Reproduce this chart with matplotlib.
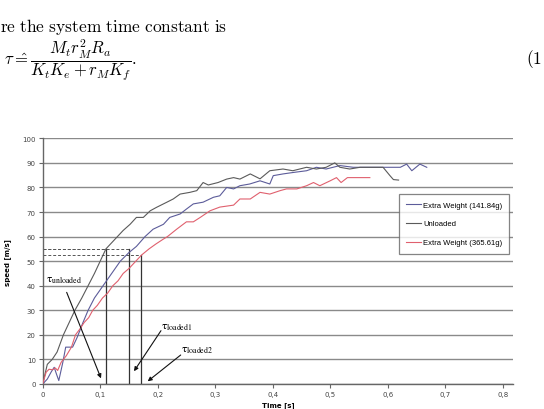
import matplotlib
matplotlib.use("Agg")
import matplotlib.pyplot as plt
from matplotlib.ticker import FixedLocator, FuncFormatter

# Data.
tUnloaded = [0, 0.008, 0.0165, 0.025, 0.036, 0.046, 0.056, 0.068, 0.079, 0.09, 0.1, 0.11, 0.12, 0.13,
             0.14, 0.152, 0.163, 0.175, 0.187, 0.198, 0.216, 0.227, 0.239, 0.256, 0.268, 0.279, 0.288,
             0.305, 0.32, 0.332, 0.343, 0.361, 0.378, 0.395, 0.418, 0.435, 0.459, 0.476, 0.493, 0.508,
             0.517, 0.534, 0.552, 0.575, 0.592, 0.604, 0.61, 0.619]
vUnloaded = [0, 8, 10, 13, 20, 25, 30, 35, 40, 45, 50, 55, 57.5, 60, 62.5, 65, 67.8, 67.8, 70.5, 71.9,
             74, 75.3, 77.3, 78, 78.7, 82, 81, 82, 83.4, 84, 83.4, 85.5, 83.5, 86.8, 87.5, 86.8, 88.2,
             87.5, 88.2, 90, 88.2, 87.5, 88.2, 88.2, 88.2, 84.8, 83.2, 83]

tLight = [0, 0.008, 0.015, 0.02, 0.024, 0.028, 0.035, 0.04, 0.052, 0.06, 0.07, 0.079, 0.09, 0.105,
          0.12, 0.135, 0.15, 0.163, 0.178, 0.192, 0.21, 0.221, 0.239, 0.25, 0.262, 0.279, 0.297, 0.308,
          0.32, 0.332, 0.343, 0.36, 0.378, 0.395, 0.401, 0.418, 0.436, 0.459, 0.476, 0.493, 0.517, 0.54,
          0.56, 0.58, 0.6, 0.622, 0.633, 0.642, 0.656, 0.668]
vLight = [0, 2, 5, 6.8, 4, 1.4, 8.8, 15, 15, 19, 25, 30, 35, 40, 45, 50, 53.5, 56, 60, 63, 65, 67.8,
          69.2, 71.2, 73.3, 74, 76, 76.6, 80, 79.4, 80.7, 81.4, 82.7, 81.4, 84.8, 85.5, 86.1, 86.8,
          88.2, 87.5, 88.9, 88.2, 88.2, 88.2, 88.2, 88.2, 89.5, 86.8, 89.5, 88.2]

tHeavy = [0, 0.006, 0.011, 0.017, 0.022, 0.026, 0.032, 0.041, 0.05, 0.057, 0.065, 0.072, 0.08, 0.087,
          0.095, 0.104, 0.113, 0.122, 0.131, 0.14, 0.15, 0.162, 0.172, 0.185, 0.197, 0.21, 0.217, 0.233,
          0.25, 0.262, 0.274, 0.291, 0.308, 0.332, 0.343, 0.361, 0.378, 0.395, 0.413, 0.424, 0.442,
          0.459, 0.471, 0.482, 0.5, 0.511, 0.519, 0.53, 0.547, 0.569]
vHeavy = [0, 4.8, 6, 5.8, 6.5, 5.5, 8.8, 11.5, 15, 20, 22.5, 25, 27, 30, 32, 35, 37, 40, 42, 45, 47,
          50, 52.5, 55, 57, 59, 60, 63, 66, 66, 67.8, 70.5, 72, 72.8, 75.3, 75.3, 78, 77.3, 78.7, 79.4,
          79.4, 80.7, 82, 80.7, 82.7, 84, 82, 84, 84, 84]

# time constants (t, speed) marked on the chart
tauTime = [0.11, 0.15, 0.171]
tauSpeed = [55, 55, 52.5]

yTicks = list(range(0, 101, 10))
xTicks = [0, 0.1, 0.2, 0.3, 0.4, 0.5, 0.6, 0.7, 0.8]

fig = plt.figure(figsize=(5.44, 4.10), dpi=100)
W, H = 544.0, 410.0

# text above the chart
fig.text(0 / W, 1 - 32 / H, r'$\mathrm{re\ the\ system\ time\ constant\ is}$',
         fontsize=12.5, math_fontfamily='cm', va='baseline', ha='left')
fig.text(4 / W, 1 - 60 / H, r'$\tau\hat{=}\dfrac{M_t r_M^2 R_a}{K_t K_e + r_M K_f}.$',
         fontsize=12, math_fontfamily='cm', va='center', ha='left')
fig.text(526 / W, 1 - 59 / H, r'$\mathrm{(1}$', fontsize=12.5, math_fontfamily='cm',
         va='center', ha='left')

ax = fig.add_axes([42.7 / W, 1 - 385 / H, (513 - 42.7) / W, (385 - 139.3) / H])

for v in yTicks:
    ax.axhline(v, color='#8a8a8a', lw=1.0, zorder=1)

lines = []
lines += ax.plot(tLight, vLight, color='#5c5c9a', lw=0.8, zorder=3)
lines += ax.plot(tUnloaded, vUnloaded, color='#5a5a5a', lw=0.8, zorder=3)
lines += ax.plot(tHeavy, vHeavy, color='#e0606e', lw=0.8, zorder=3)

# dashed level lines and vertical drops at the time constants
for t, v in zip(tauTime, tauSpeed):
    ax.plot([0, t], [v, v], ls=(0, (3, 2)), color='#555555', lw=0.7, zorder=2)
    ax.plot([t, t], [0, v], color='#333333', lw=0.9, zorder=2)

arrowProps = dict(arrowstyle='-|>', color='#111111', lw=0.8, mutation_scale=6,
                  shrinkA=0, shrinkB=0)
ax.annotate('', xy=(0.1014, 2.3), xytext=(0.0417, 37.3), arrowprops=arrowProps)
ax.annotate('', xy=(0.1588, 5.2), xytext=(0.2057, 21.7), arrowprops=arrowProps)
ax.annotate('', xy=(0.1826, 1.1), xytext=(0.240, 11.8), arrowprops=arrowProps)

labelKw = dict(fontsize=8, math_fontfamily='stix', ha='left', va='center')
ax.text(0.006, 42.5, r'$\mathrm{\tau_{unloaded}}$', **labelKw)
ax.text(0.206, 23.5, r'$\mathrm{\tau_{loaded1}}$', **labelKw)
ax.text(0.241, 14.0, r'$\mathrm{\tau_{loaded2}}$', **labelKw)

ax.set_xlim(0, 0.818)
ax.set_ylim(0, 100)
ax.xaxis.set_major_locator(FixedLocator(xTicks))
ax.yaxis.set_major_locator(FixedLocator(yTicks))
ax.xaxis.set_major_formatter(FuncFormatter(lambda x, p: ('%g' % x).replace('.', ',')))
ax.tick_params(axis='both', labelsize=5, labelcolor='#444444', color='#666666',
               length=3, width=0.8, direction='out', pad=2)
for side in ['top', 'right']:
    ax.spines[side].set_visible(False)
for side in ['left', 'bottom']:
    ax.spines[side].set_color('#666666')
    ax.spines[side].set_linewidth(1.0)

ax.set_xlabel('Time [s]', fontsize=5, fontweight='bold', labelpad=3)
ax.set_ylabel('speed [m/s]', fontsize=5, fontweight='bold', labelpad=8)

leg = ax.legend(lines, ['Extra Weight (141.84g)', 'Unloaded', 'Extra Weight (365.61g)'],
                loc='upper left', bbox_to_anchor=(0.7576, 0.773), borderaxespad=0,
                prop={'family': 'Liberation Sans', 'size': 5.5}, frameon=True, fancybox=False,
                handlelength=1.9, handletextpad=0.3, labelspacing=1.5, borderpad=0.95)
leg.get_frame().set_edgecolor('#666666')
leg.get_frame().set_linewidth(0.9)
for ln in leg.get_lines():
    ln.set_linewidth(0.8)

fig.savefig('out.png', dpi=100)
